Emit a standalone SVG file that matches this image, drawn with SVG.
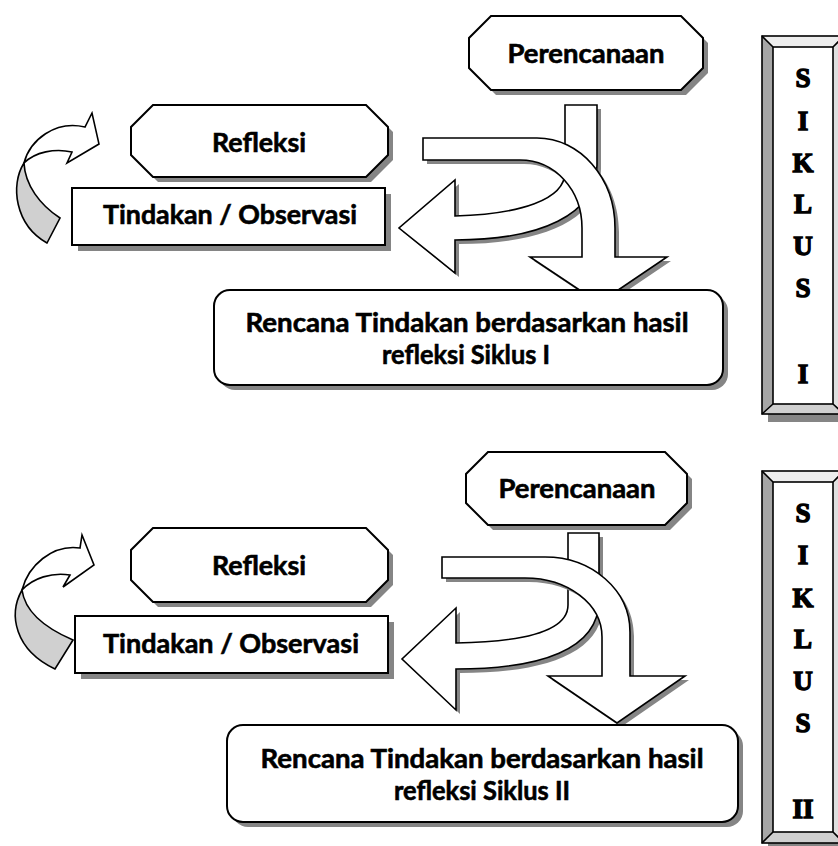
<svg xmlns="http://www.w3.org/2000/svg" xmlns:xlink="http://www.w3.org/1999/xlink" width="838" height="846" viewBox="0 0 838 846">
<style>
.sh{fill:#858585;stroke:none}
.fg{fill:#fff;stroke:#000;stroke-width:2;stroke-linejoin:miter}
.ar{fill:#fff;stroke:#000;stroke-width:1.6;stroke-linejoin:miter}
.gr{fill:#d0d0d0;stroke:#000;stroke-width:1.6}
.t{font-family:Lato,"Open Sans","Liberation Sans",sans-serif;font-weight:bold;font-size:27px;fill:#000;stroke:#000;stroke-width:0.6;text-anchor:middle}
.s{font-family:"Liberation Serif","DejaVu Serif",serif;font-weight:bold;font-size:27px;fill:#000;stroke:#000;stroke-width:1.4;text-anchor:middle}
</style>
<defs>
<polygon id="p1" points="491,16 681,16 703,38 703,68 681,90 491,90 469,68 469,38"/>
<polygon id="p2" points="488,452 665,452 687,474 687,503 665,525 488,525 466,503 466,474"/>
<polygon id="r1" points="153,105 366,105 388,127 388,155 366,177 153,177 131,155 131,127"/>
<polygon id="r2" points="153,528 366,528 388,550 388,580 366,602 153,602 131,580 131,550"/>
<rect id="t1" x="72" y="188" width="313" height="57"/>
<rect id="t2" x="75" y="616" width="313" height="57"/>
<rect id="k1" x="214" y="290" width="509" height="95" rx="16"/>
<rect id="k2" x="227" y="725" width="511" height="97" rx="16"/>
<path id="b2a" d="M565 105 L597 105 L597 165 C597 215 540 240 455 240 L455 273 L399 228 L455 180 L455 216 C520 214 565 200 565 172 Z"/>
<path id="b1a" d="M423 138 L537 138 C580 138 615 178 615 228 L615 257 L667 257 L599 303 L530 257 L582 257 L582 228 C582 190 555 160 520 160 L423 160 Z"/>
<path id="b2b" d="M568 533 L599 533 L599 600 C599 650 540 669 456 669 L456 710 L402 659 L456 608 L456 643 C520 642 568 632 568 605 Z"/>
<path id="b1b" d="M442 557 L545 557 C592 557 630 590 630 632 L630 676 L685 676 L617 723 L548 676 L602 676 L602 637 C602 604 568 578 525 578 L442 578 Z"/>
</defs>

<g id="connectors">
  <g id="loop-arrow-1">
    <path class="ar" d="M24 163 C30 140 55 120 85 127 L92 113 L99 144 L67 163 L72 152 C55 148 35 152 24 163 Z"/>
    <path class="gr" d="M24 163 C10 185 15 225 47 243 L60 218 C40 205 25 185 24 163 Z"/>
  </g>
  <g id="loop-arrow-2">
    <path class="ar" d="M22 590 C28 566 52 544 80 548 L82 535 L94 565 L63 587 L70 575 C52 572 33 578 22 590 Z"/>
    <path class="gr" d="M22 590 C8 615 15 650 55 669 L73 640 C45 628 25 612 22 590 Z"/>
  </g>
  <g id="turn-arrows-1">
    <use xlink:href="#b2a" class="sh" transform="translate(4,4)"/>
    <use xlink:href="#b2a" class="ar"/>
    <use xlink:href="#b1a" class="sh" transform="translate(4,4)"/>
    <use xlink:href="#b1a" class="ar"/>
  </g>
  <g id="turn-arrows-2">
    <use xlink:href="#b2b" class="sh" transform="translate(4,4)"/>
    <use xlink:href="#b2b" class="ar"/>
    <use xlink:href="#b1b" class="sh" transform="translate(4,4)"/>
    <use xlink:href="#b1b" class="ar"/>
  </g>
</g>

<g id="perencanaan-1">
  <use xlink:href="#p1" class="sh" transform="translate(5,5)"/>
  <use xlink:href="#p1" class="fg"/>
  <text class="t" x="586" y="63" textLength="157" lengthAdjust="spacingAndGlyphs">Perencanaan</text>
</g>
<g id="refleksi-1">
  <use xlink:href="#r1" class="sh" transform="translate(5,5)"/>
  <use xlink:href="#r1" class="fg"/>
  <text class="t" x="259" y="152" textLength="94" lengthAdjust="spacingAndGlyphs">Refleksi</text>
</g>
<g id="tindakan-1">
  <use xlink:href="#t1" class="sh" transform="translate(6,6)"/>
  <use xlink:href="#t1" class="fg"/>
  <text class="t" x="230" y="224" textLength="254" lengthAdjust="spacingAndGlyphs">Tindakan / Observasi</text>
</g>
<g id="rencana-1">
  <use xlink:href="#k1" class="sh" transform="translate(5,5)"/>
  <use xlink:href="#k1" class="fg"/>
  <text class="t" x="467" y="332" textLength="443" lengthAdjust="spacingAndGlyphs">Rencana Tindakan berdasarkan hasil</text>
  <text class="t" x="466" y="364" textLength="168" lengthAdjust="spacingAndGlyphs">refleksi Siklus I</text>
</g>
<g id="siklus-1">
  <rect class="sh" x="768" y="44" width="80" height="378"/>
  <polygon points="762,36 844,36 833,47 773,47" fill="#ededed"/>
  <polygon points="762,36 773,47 773,404 762,414" fill="#a6a6a6"/>
  <polygon points="762,414 773,404 833,404 844,414" fill="#cfcfcf"/>
  <polygon points="844,36 833,47 833,404 844,414" fill="#e0e0e0"/>
  <rect x="773" y="47" width="60" height="357" fill="#fff"/>
  <g fill="none" stroke="#000" stroke-width="1.6">
    <rect x="762" y="36" width="82" height="378"/>
    <rect x="773" y="47" width="60" height="357"/>
    <path d="M762 36 L773 47 M844 36 L833 47 M762 414 L773 404 M844 414 L833 404"/>
  </g>
  <text class="s" x="803" y="87">S</text>
  <text class="s" x="803" y="130">I</text>
  <text class="s" x="803" y="172">K</text>
  <text class="s" x="803" y="213">L</text>
  <text class="s" x="803" y="255">U</text>
  <text class="s" x="803" y="297">S</text>
  <text class="s" x="803" y="383">I</text>
</g>

<g id="perencanaan-2">
  <use xlink:href="#p2" class="sh" transform="translate(5,5)"/>
  <use xlink:href="#p2" class="fg"/>
  <text class="t" x="577" y="498" textLength="157" lengthAdjust="spacingAndGlyphs">Perencanaan</text>
</g>
<g id="refleksi-2">
  <use xlink:href="#r2" class="sh" transform="translate(5,5)"/>
  <use xlink:href="#r2" class="fg"/>
  <text class="t" x="259" y="575" textLength="94" lengthAdjust="spacingAndGlyphs">Refleksi</text>
</g>
<g id="tindakan-2">
  <use xlink:href="#t2" class="sh" transform="translate(6,6)"/>
  <use xlink:href="#t2" class="fg"/>
  <text class="t" x="231" y="653" textLength="256" lengthAdjust="spacingAndGlyphs">Tindakan / Observasi</text>
</g>
<g id="rencana-2">
  <use xlink:href="#k2" class="sh" transform="translate(5,5)"/>
  <use xlink:href="#k2" class="fg"/>
  <text class="t" x="482" y="768" textLength="443" lengthAdjust="spacingAndGlyphs">Rencana Tindakan berdasarkan hasil</text>
  <text class="t" x="482" y="800" textLength="176" lengthAdjust="spacingAndGlyphs">refleksi Siklus II</text>
</g>
<g id="siklus-2">
  <rect class="sh" x="768" y="479" width="80" height="378"/>
  <polygon points="762,471 844,471 833,482 773,482" fill="#ededed"/>
  <polygon points="762,471 773,482 773,832 762,843" fill="#a6a6a6"/>
  <polygon points="762,843 773,832 833,832 844,843" fill="#cfcfcf"/>
  <polygon points="844,471 833,482 833,832 844,843" fill="#e0e0e0"/>
  <rect x="773" y="482" width="60" height="350" fill="#fff"/>
  <g fill="none" stroke="#000" stroke-width="1.6">
    <rect x="762" y="471" width="82" height="372"/>
    <rect x="773" y="482" width="60" height="350"/>
    <path d="M762 471 L773 482 M844 471 L833 482 M762 843 L773 832 M844 843 L833 832"/>
  </g>
  <text class="s" x="803" y="522">S</text>
  <text class="s" x="803" y="564">I</text>
  <text class="s" x="803" y="607">K</text>
  <text class="s" x="803" y="648">L</text>
  <text class="s" x="803" y="690">U</text>
  <text class="s" x="803" y="732">S</text>
  <text class="s" x="803" y="818">II</text>
</g>
</svg>
